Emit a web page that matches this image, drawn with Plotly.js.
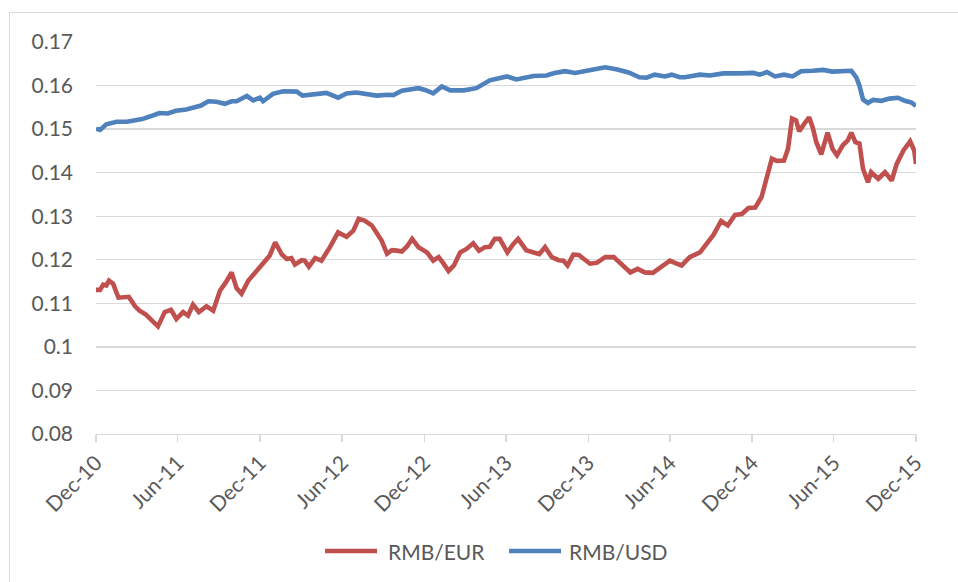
<!DOCTYPE html>
<html>
<head>
<meta charset="utf-8">
<script src="https://cdn.plot.ly/plotly-3.0.1.min.js"></script>
<style>
  html, body { margin: 0; padding: 0; background: #ffffff; }
  #wrap { position: relative; width: 958px; height: 582px; overflow: hidden; }
  #chart { position: absolute; left: 0; top: 0; width: 958px; height: 582px; }
  #frame { position: absolute; left: 9px; top: 12px; width: 1000px; height: 1000px;
           border-left: 1.5px solid #d9d9d9; border-top: 1.5px solid #d9d9d9; pointer-events: none; }
</style>
</head>
<body>
<div id="wrap">
  <div id="chart"></div>
  <div id="frame"></div>
</div>
<script>
// RMB/EUR
const eurDates = [
  "2010-12-01","2010-12-10","2010-12-17","2010-12-24","2010-12-30","2011-01-08","2011-01-20",
  "2011-02-05","2011-02-12","2011-02-26","2011-03-08","2011-03-22","2011-04-07","2011-04-18",
  "2011-05-03","2011-05-17","2011-05-29","2011-06-13","2011-06-24","2011-07-05","2011-07-18",
  "2011-08-04","2011-08-19","2011-09-03","2011-09-16","2011-09-29","2011-10-10","2011-10-21",
  "2011-11-05","2011-11-20","2011-12-01","2011-12-12","2011-12-23","2012-01-04","2012-01-11",
  "2012-01-19","2012-01-30","2012-02-09","2012-02-17","2012-03-03","2012-03-10","2012-03-19",
  "2012-04-02","2012-04-16","2012-05-05","2012-05-23","2012-06-11","2012-06-26","2012-07-08",
  "2012-07-21","2012-08-06","2012-08-17","2012-08-28","2012-09-09","2012-09-20","2012-10-01",
  "2012-10-12","2012-10-23","2012-11-04","2012-11-18","2012-12-07","2012-12-21","2013-01-02",
  "2013-01-13","2013-01-24","2013-02-05","2013-02-19","2013-03-05","2013-03-20","2013-04-02",
  "2013-04-15","2013-04-26","2013-05-07","2013-05-18","2013-06-04","2013-06-17","2013-06-28",
  "2013-07-16","2013-08-01","2013-08-14","2013-08-27","2013-09-11","2013-09-26","2013-10-07",
  "2013-10-16","2013-10-29","2013-11-10","2013-11-25","2013-12-05","2013-12-20","2014-01-08",
  "2014-01-27","2014-02-15","2014-03-05","2014-03-21","2014-04-06","2014-04-24","2014-05-13",
  "2014-06-01","2014-06-12","2014-06-27","2014-07-15","2014-08-07","2014-08-22","2014-09-06",
  "2014-09-23","2014-10-08","2014-10-24","2014-11-08","2014-11-23","2014-12-08","2014-12-22",
  "2015-01-03","2015-01-14","2015-01-25","2015-02-10","2015-02-19","2015-02-28","2015-03-09",
  "2015-03-16","2015-03-27","2015-04-07","2015-04-15","2015-04-23","2015-05-04","2015-05-18",
  "2015-05-29","2015-06-08","2015-06-21","2015-07-02","2015-07-10","2015-07-19","2015-07-28",
  "2015-08-05","2015-08-16","2015-08-23","2015-09-08","2015-09-23","2015-10-08","2015-10-19",
  "2015-11-03","2015-11-18","2015-11-27","2015-12-01"
];
const eurValues = [
  0.1131,0.1131,0.1143,0.1141,0.1152,0.1145,0.1113,
  0.1116,0.1115,0.1093,0.1083,0.1074,0.1059,0.1047,
  0.1080,0.1085,0.1064,0.1080,0.1072,0.1097,0.1080,
  0.1093,0.1083,0.1129,0.1148,0.1171,0.1135,0.1122,
  0.1152,0.1171,0.1185,0.1198,0.1210,0.1240,0.1229,
  0.1212,0.1202,0.1204,0.1189,0.1199,0.1198,0.1184,
  0.1204,0.1198,0.1229,0.1263,0.1253,0.1267,0.1294,
  0.1290,0.1279,0.1263,0.1244,0.1214,0.1222,0.1221,
  0.1219,0.1230,0.1248,0.1229,0.1217,0.1198,0.1206,
  0.1191,0.1174,0.1187,0.1217,0.1225,0.1238,0.1221,
  0.1229,0.1230,0.1248,0.1248,0.1217,0.1236,0.1248,
  0.1222,0.1217,0.1213,0.1229,0.1206,0.1199,0.1198,
  0.1187,0.1212,0.1211,0.1199,0.1191,0.1193,0.1206,
  0.1206,0.1187,0.1171,0.1179,0.1171,0.1170,0.1185,
  0.1198,0.1193,0.1187,0.1206,0.1217,0.1237,0.1257,
  0.1289,0.1279,0.1303,0.1305,0.1319,0.1320,0.1344,
  0.1386,0.1432,0.1427,0.1428,0.1455,0.1524,0.1520,
  0.1495,0.1512,0.1527,0.1504,0.1470,0.1442,0.1492,
  0.1455,0.1440,0.1463,0.1474,0.1492,0.1470,0.1467,
  0.1409,0.1378,0.1401,0.1386,0.1401,0.1382,0.1420,
  0.1451,0.1472,0.1451,0.1420
];

// RMB/USD
const usdDates = [
  "2010-12-01","2010-12-10","2010-12-24","2011-01-16","2011-02-08","2011-02-28","2011-03-14",
  "2011-04-03","2011-04-21","2011-05-10","2011-05-28","2011-06-20","2011-07-05","2011-07-23",
  "2011-08-08","2011-08-26","2011-09-14","2011-09-29","2011-10-10","2011-11-02","2011-11-16",
  "2011-12-01","2011-12-08","2011-12-30","2012-01-22","2012-02-21","2012-03-05","2012-04-05",
  "2012-04-27","2012-05-23","2012-06-11","2012-07-03","2012-07-25","2012-08-17","2012-09-12",
  "2012-09-23","2012-10-12","2012-11-18","2012-12-03","2012-12-21","2013-01-09","2013-01-28",
  "2013-02-27","2013-03-27","2013-04-26","2013-06-03","2013-06-24","2013-08-01","2013-08-30",
  "2013-09-15","2013-10-10","2013-11-02","2013-11-28","2013-12-13","2014-01-08","2014-02-04",
  "2014-03-01","2014-03-25","2014-04-10","2014-04-28","2014-05-21","2014-06-05","2014-06-23",
  "2014-07-04","2014-08-07","2014-08-29","2014-09-28","2014-11-05","2014-12-04","2014-12-18",
  "2015-01-03","2015-01-21","2015-02-10","2015-03-01","2015-03-20","2015-04-15","2015-05-08",
  "2015-05-29","2015-06-17","2015-07-10","2015-07-21","2015-07-28","2015-08-05","2015-08-16",
  "2015-08-27","2015-09-15","2015-10-03","2015-10-22","2015-11-06","2015-11-21","2015-12-01"
];
const usdValues = [
  0.1501,0.1498,0.1511,0.1517,0.1517,0.1521,0.1523,
  0.1530,0.1537,0.1536,0.1542,0.1545,0.1548,0.1554,
  0.1564,0.1563,0.1558,0.1564,0.1564,0.1576,0.1566,
  0.1572,0.1564,0.1581,0.1587,0.1586,0.1577,0.1581,
  0.1583,0.1572,0.1582,0.1584,0.1581,0.1577,0.1579,
  0.1578,0.1588,0.1594,0.1590,0.1582,0.1598,0.1589,
  0.1589,0.1594,0.1612,0.1621,0.1614,0.1622,0.1623,
  0.1628,0.1633,0.1629,0.1634,0.1636,0.1642,0.1637,
  0.1630,0.1619,0.1618,0.1625,0.1621,0.1625,0.1619,
  0.1619,0.1625,0.1623,0.1628,0.1628,0.1629,0.1625,
  0.1631,0.1621,0.1625,0.1621,0.1633,0.1634,0.1636,
  0.1632,0.1634,0.1634,0.1619,0.1600,0.1568,0.1560,
  0.1567,0.1565,0.1570,0.1572,0.1565,0.1561,0.1553
];

const seriesNames = ["RMB/EUR", "RMB/USD"];
const seriesColors = ["#c0504d", "#4f81bd"];
const xRange = ["2010-12-01", "2015-12-01"];
const yRange = [0.08, 0.17];

const fontFamily = "Lato, 'Noto Sans', sans-serif";
const textColor = "#595959";

const traces = [
  { x: eurDates, y: eurValues, name: seriesNames[0], type: "scatter", mode: "lines",
    line: { color: seriesColors[0], width: 4.6 } },
  { x: usdDates, y: usdValues, name: seriesNames[1], type: "scatter", mode: "lines",
    line: { color: seriesColors[1], width: 4.6 } }
];

// custom legend (Excel style: long line swatches), placed in paper coordinates
const legendY = -0.2985;
const legendItems = [
  { x0: 0.2793, x1: 0.3427, tx: 0.3537 },
  { x0: 0.5037, x1: 0.5671, tx: 0.5744 }
];
const shapes = legendItems.map((it, i) => ({
  type: "line", xref: "paper", yref: "paper",
  x0: it.x0, x1: it.x1, y0: legendY, y1: legendY,
  line: { color: seriesColors[i], width: 4.6 }
}));
const annotations = legendItems.map((it, i) => ({
  xref: "paper", yref: "paper", x: it.tx, y: legendY,
  xanchor: "left", yanchor: "middle", showarrow: false,
  text: seriesNames[i],
  font: { family: fontFamily, size: 21, color: textColor }
}));

const layout = {
  width: 958, height: 582,
  margin: { l: 96, r: 42, t: 42, b: 148 },
  paper_bgcolor: "rgba(0,0,0,0)",
  plot_bgcolor: "#ffffff",
  font: { family: fontFamily, size: 21, color: textColor },
  showlegend: false,
  shapes: shapes,
  annotations: annotations,
  xaxis: {
    type: "date", range: xRange,
    tick0: "2010-12-01", dtick: "M6", tickformat: "%b-%y",
    tickangle: -45, ticks: "outside", ticklen: 7, tickcolor: "#d9d9d9", tickwidth: 1.3,
    showgrid: false, showline: true, linecolor: "#d9d9d9", linewidth: 1.3,
    zeroline: false,
    tickfont: { family: fontFamily, size: 21, color: textColor }
  },
  yaxis: {
    range: yRange, tick0: 0.08, dtick: 0.01,
    showgrid: true, gridcolor: "#d9d9d9", gridwidth: 1.3,
    zeroline: false, showline: false, ticks: "",
    ticklabelstandoff: 22,
    tickfont: { family: fontFamily, size: 21, color: textColor }
  }
};

Plotly.newPlot("chart", traces, layout, { displayModeBar: false, staticPlot: true });
</script>
</body>
</html>
